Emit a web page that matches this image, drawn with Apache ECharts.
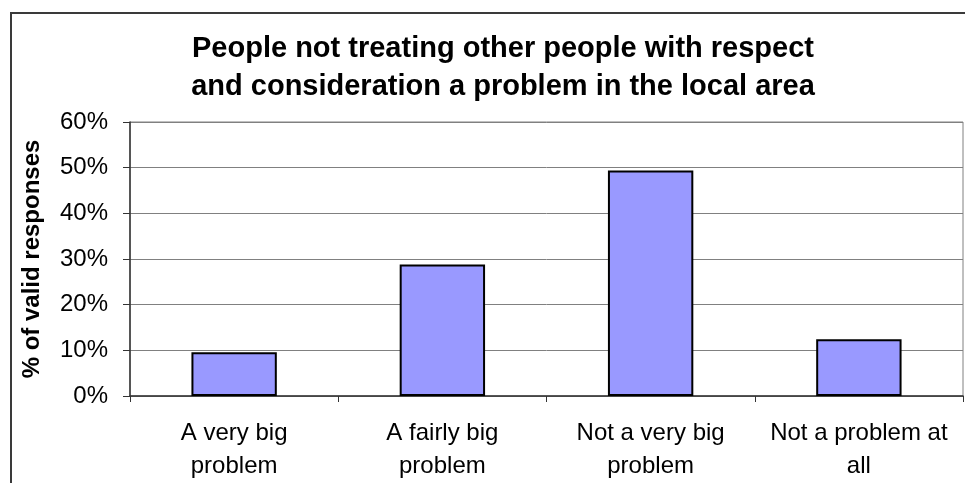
<!DOCTYPE html>
<html>
<head>
<meta charset="utf-8">
<title>Respect and consideration</title>
<script src="https://cdn.jsdelivr.net/npm/echarts@6/dist/echarts.min.js"></script>
<style>
  html, body { margin: 0; padding: 0; background: #fff; }
  #chart { width: 965px; height: 483px; }
</style>
</head>
<body>
<div id="chart"></div>
<script>
// chart data
const categories = ['A very big\nproblem', 'A fairly big\nproblem', 'Not a very big\nproblem', 'Not a problem at\nall']
const responses = [9.6, 28.8, 49.4, 12.4]
const yTicks = { min: 0, max: 60, interval: 10 }
const titleText = 'People not treating other people with respect\nand consideration a problem in the local area'
const yAxisName = '% of valid responses'

const font = "'Liberation Sans', Arial, sans-serif"
const chart = echarts.init(document.getElementById('chart'))

chart.setOption({
  animation: false,
  backgroundColor: '#fff',
  title: {
    text: titleText,
    left: 503,
    top: 30,
    padding: 0,
    textAlign: 'center',
    textStyle: {
      fontFamily: font,
      fontSize: 29,
      fontWeight: 'bold',
      color: '#000',
      lineHeight: 38
    }
  },
  // outer frame of the chart area
  graphic: [
    {
      type: 'rect',
      shape: { x: 11, y: 13, width: 1000, height: 520 },
      style: { fill: 'none', stroke: '#3a3a3a', lineWidth: 2 },
      silent: true
    }
  ],
  grid: {
    left: 130,
    top: 122,
    right: 2,
    bottom: 87,
    show: true,
    borderColor: '#808080',
    borderWidth: 1
  },
  xAxis: {
    type: 'category',
    data: categories,
    axisLine: { lineStyle: { color: '#333', width: 1.5 } },
    axisTick: { show: true, length: 6, lineStyle: { color: '#333' } },
    axisLabel: {
      margin: 21,
      fontFamily: font,
      fontSize: 24,
      lineHeight: 33,
      color: '#000',
      interval: 0
    }
  },
  yAxis: {
    type: 'value',
    min: yTicks.min,
    max: yTicks.max,
    interval: yTicks.interval,
    name: yAxisName,
    nameLocation: 'middle',
    nameGap: 86,
    nameTextStyle: {
      fontFamily: font,
      fontSize: 24,
      fontWeight: 'bold',
      color: '#000'
    },
    axisLine: { show: true, lineStyle: { color: '#333', width: 1.5 } },
    axisTick: { show: true, length: 7, lineStyle: { color: '#333' } },
    axisLabel: {
      margin: 22,
      fontFamily: font,
      fontSize: 24,
      color: '#000',
      formatter: '{value}%'
    },
    splitLine: { lineStyle: { color: '#808080', width: 1 } }
  },
  series: [
    {
      type: 'bar',
      data: responses,
      barWidth: '41%',
      itemStyle: {
        color: '#9999FF',
        borderColor: '#000',
        borderWidth: 2
      }
    }
  ]
})
</script>
</body>
</html>
